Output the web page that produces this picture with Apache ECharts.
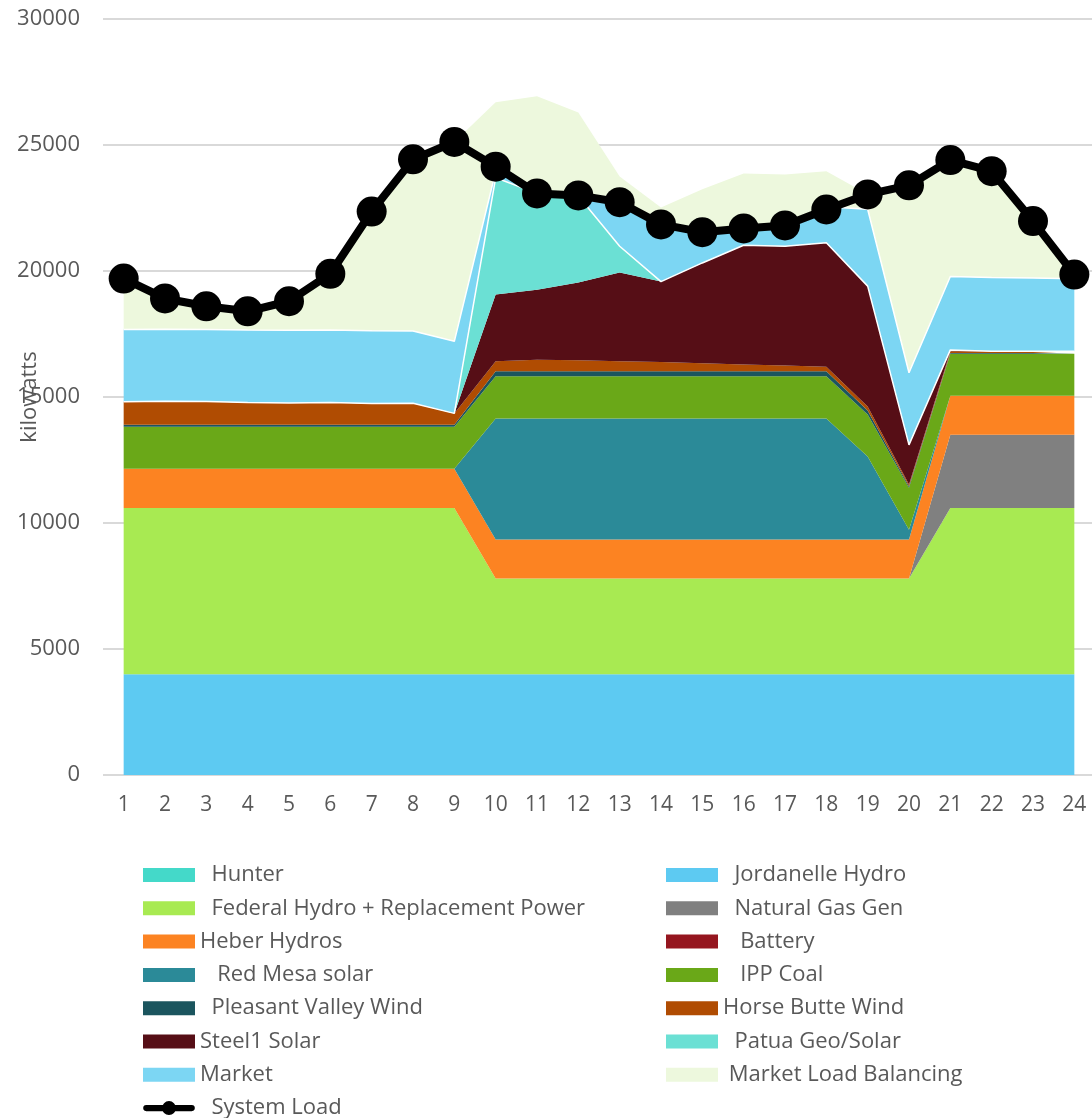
<!DOCTYPE html>
<html>
<head>
<meta charset="utf-8">
<title>Hourly Generation Stack</title>
<script src="https://cdn.jsdelivr.net/npm/echarts@6/dist/echarts.min.js"></script>
<style>
  html, body { margin: 0; padding: 0; background: #ffffff; }
  #chart { width: 1092px; height: 1118px; }
</style>
</head>
<body>
<div id="chart"></div>
<script>
// Hour of day
const hours = ['1','2','3','4','5','6','7','8','9','10','11','12','13','14','15','16','17','18','19','20','21','22','23','24'];

// Generation by resource, kilowatts (stacked bottom to top)
const hunter        = [0,0,0,0,0,0,0,0,0,0,0,0,0,0,0,0,0,0,0,0,0,0,0,0];
const jordanelle    = [4000,4000,4000,4000,4000,4000,4000,4000,4000,4000,4000,4000,4000,4000,4000,4000,4000,4000,4000,4000,4000,4000,4000,4000];
const federalHydro  = [6600,6600,6600,6600,6600,6600,6600,6600,6600,3800,3800,3800,3800,3800,3800,3800,3800,3800,3800,3800,6600,6600,6600,6600];
const naturalGas    = [0,0,0,0,0,0,0,0,0,0,0,0,0,0,0,0,0,0,0,0,2900,2900,2900,2900];
const heberHydros   = [1550,1550,1550,1550,1550,1550,1550,1550,1550,1550,1550,1550,1550,1550,1550,1550,1550,1550,1550,1550,1550,1550,1550,1550];
const battery       = [0,0,0,0,0,0,0,0,0,0,0,0,0,0,0,0,0,0,0,0,0,0,0,0];
const redMesa       = [0,0,0,0,0,0,0,0,0,4800,4800,4800,4800,4800,4800,4800,4800,4800,3290,380,0,0,0,0];
const ippCoal       = [1670,1670,1670,1670,1670,1670,1670,1670,1670,1670,1670,1670,1670,1670,1670,1670,1670,1670,1670,1670,1670,1670,1670,1670];
const pleasantValley= [80,80,80,80,80,80,80,80,80,200,200,200,200,200,200,200,200,200,150,60,30,30,30,30];
const horseButte    = [910,930,920,880,860,880,840,850,450,400,460,440,400,370,320,270,230,180,160,70,70,70,70,70];
const steel1        = [0,0,0,0,0,0,0,0,0,2650,2780,3080,3520,3190,3980,4730,4730,4920,4780,1570,50,0,0,0];
const patua         = [0,0,0,0,0,0,0,0,0,4630,3820,3440,1040,0,0,0,0,0,0,0,0,0,0,0];
const market        = [2870,2860,2860,2880,2890,2880,2890,2870,2860,250,0,20,1750,2270,1220,670,830,1430,3050,2860,2910,2920,2900,2870];
const marketBalance = [2020,1220,920,740,1150,2230,4730,6810,7910,2750,3850,3290,1020,670,1700,2180,2020,1410,600,7440,4620,4220,2260,170];

// Total system load, kilowatts
const systemLoad    = [19700,18910,18600,18400,18800,19890,22360,24430,25120,24140,23080,23000,22730,21850,21540,21690,21810,22440,23040,23400,24400,23960,21980,19860];

// Axis ticks
const yTicks = { min: 0, max: 30000, step: 5000 };

const FONT = '"Open Sans", "Noto Sans", sans-serif';
const TEXT = '#595959';

const areas = [
  { name: '  Hunter',                            data: hunter,         color: '#44D9C9' },
  { name: '  Jordanelle Hydro',                  data: jordanelle,     color: '#5DCAF2' },
  { name: '  Federal Hydro + Replacement Power', data: federalHydro,   color: '#A8EA52' },
  { name: '  Natural Gas Gen',                   data: naturalGas,     color: '#808080' },
  { name: 'Heber Hydros',                        data: heberHydros,    color: '#FC8322' },
  { name: '   Battery',                          data: battery,        color: '#95161F' },
  { name: '   Red Mesa solar',                   data: redMesa,        color: '#2B8A98' },
  { name: '   IPP Coal',                         data: ippCoal,        color: '#6AA818' },
  { name: '  Pleasant Valley Wind',              data: pleasantValley, color: '#1B555E' },
  { name: 'Horse Butte Wind',                    data: horseButte,     color: '#B04C02' },
  { name: 'Steel1 Solar',                        data: steel1,         color: '#560E16' },
  { name: '  Patua Geo/Solar',                   data: patua,          color: '#6BE0D4', edge: true },
  { name: 'Market',                              data: market,         color: '#7CD6F3', edge: true },
  { name: ' Market Load Balancing',              data: marketBalance,  color: '#EDF8DD' }
];

const loadName = '  System Load';

// Legend glyph for the load line: thick rounded bar with a dot in the middle
const loadIcon = 'path://M3.5,4.5 L55.5,4.5 A3.5,3.5 0 0 1 55.5,11.5 L3.5,11.5 A3.5,3.5 0 0 1 3.5,4.5 Z ' +
                 'M29.5,0 A8,8 0 1 1 29.5,16 A8,8 0 1 1 29.5,0 Z';

const series = areas.map(a => ({
  name: a.name,
  type: 'line',
  stack: 'generation',
  data: a.data,
  symbol: 'none',
  showSymbol: false,
  itemStyle: { color: a.color },
  lineStyle: a.edge ? { color: '#ffffff', width: 1.5 } : { width: 0, opacity: 0 },
  areaStyle: { color: a.color, opacity: 1 },
  emphasis: { disabled: true },
  z: 2
}));

series.push({
  name: loadName,
  type: 'line',
  data: systemLoad,
  symbol: 'circle',
  symbolSize: 30,
  itemStyle: { color: '#000000' },
  lineStyle: { color: '#000000', width: 8 },
  emphasis: { disabled: true },
  z: 5
});

const legendCommon = {
  orient: 'vertical',
  top: 864,
  height: 260,
  padding: 0,
  itemWidth: 52,
  itemHeight: 14,
  itemGap: 11.3,
  textStyle: { fontFamily: FONT, fontSize: 22, color: TEXT, lineHeight: 22 },
  selectedMode: false
};

const leftNames  = [areas[0].name, areas[2].name, areas[4].name, areas[6].name, areas[8].name, areas[10].name, areas[12].name];
const rightNames = [areas[1].name, areas[3].name, areas[5].name, areas[7].name, areas[9].name, areas[11].name, areas[13].name];

const chart = echarts.init(document.getElementById('chart'), null, { renderer: 'canvas' });
chart.setOption({
  animation: false,
  backgroundColor: '#ffffff',
  grid: { left: 103, top: 19, width: 992, height: 756, containLabel: false, outerBoundsMode: 'none' },
  xAxis: {
    type: 'category',
    data: hours,
    boundaryGap: true,
    axisLine: { show: false },
    axisTick: { show: false },
    axisLabel: { color: TEXT, fontFamily: FONT, fontSize: 21, margin: 20 }
  },
  yAxis: {
    type: 'value',
    min: yTicks.min,
    max: yTicks.max,
    interval: yTicks.step,
    name: 'kilowatts',
    nameLocation: 'middle',
    nameGap: 62,
    nameMoveOverlap: false,
    nameTextStyle: { color: TEXT, fontFamily: FONT, fontSize: 22 },
    axisLine: { show: false },
    axisTick: { show: false },
    axisLabel: { color: TEXT, fontFamily: FONT, fontSize: 22, margin: 23, formatter: v => String(v) },
    splitLine: { lineStyle: { color: '#D9D9D9', width: 2 } }
  },
  legend: [
    Object.assign({}, legendCommon, {
      left: 143,
      data: leftNames.map(n => ({ name: n, icon: 'rect' })).concat([{ name: loadName, icon: loadIcon }])
    }),
    Object.assign({}, legendCommon, {
      left: 666,
      data: rightNames.map(n => ({ name: n, icon: 'rect' }))
    })
  ],
  series: series
});
</script>
</body>
</html>
